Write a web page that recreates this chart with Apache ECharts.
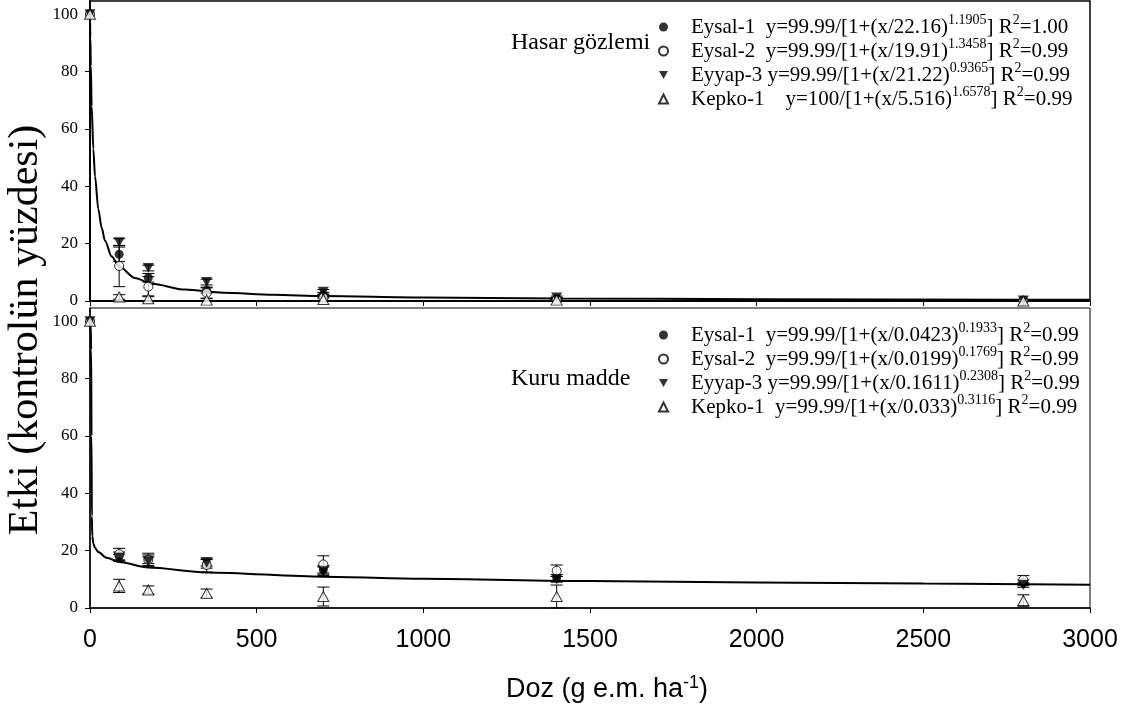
<!DOCTYPE html>
<html><head><meta charset="utf-8">
<script src="https://cdn.jsdelivr.net/npm/echarts@6/dist/echarts.min.js"></script>
<style>html,body{margin:0;padding:0;background:#fff}#c{width:1130px;height:708px}</style>
</head><body><div id="c"></div>
<script>
// ---- data ----
const doses = [0, 87.5, 175, 350, 700, 1400, 2800];
const xTicks = [0, 500, 1000, 1500, 2000, 2500, 3000];
const yTicks = [0, 20, 40, 60, 80, 100];
const cultivars = ['Eysal-1', 'Eysal-2', 'Eyyap-3', 'Kepko-1'];

// Hasar gözlemi (top panel)
const hEysal1 = [100, 16.3, 8.1, 3.8, 2.2, 0.8, 0.1];
const hEysal2 = [100, 12.2, 5.0, 2.8, 1.2, 0.5, 0.1];
const hEyyap3 = [100, 20.5, 11.5, 6.6, 3.2, 1.2, 0.2];
const hKepko1 = [100, 1.4, 0.8, 0.3, 0.5, 0.3, 0.0];
const hEysal1Err = [0, 2.5, 1.5, 1.0, 0.8, 0.4, 0];
const hEysal2Err = [0, 7.2, 3.5, 1.8, 1.0, 0.5, 0.2];
const hEyyap3Err = [0, 1.2, 1.0, 1.0, 0.8, 0.5, 0];
const hKepko1Err = [0, 0.8, 1.0, 0.5, 0.5, 0.3, 0];
const hCurveX = [0, 1, 2.5, 5, 10, 15, 25, 35, 45, 65, 87.5, 135, 185, 285, 400, 550, 700, 1000, 1400, 2000, 2800, 3000];
const hCurveY = [100, 92, 82, 68, 53, 43.5, 32, 25.5, 21, 15.5, 12, 8, 6, 4, 2.9, 2.2, 1.7, 1.2, 0.9, 0.6, 0.4, 0.4];
const hEqPre = ['Eysal-1  y=99.99/[1+(x/22.16)', 'Eysal-2  y=99.99/[1+(x/19.91)', 'Eyyap-3 y=99.99/[1+(x/21.22)', 'Kepko-1    y=100/[1+(x/5.516)'];
const hEqExp = ['1.1905', '1.3458', '0.9365', '1.6578'];
const hR2 = ['1.00', '0.99', '0.99', '0.99'];

// Kuru madde (bottom panel)
const kEysal1 = [100, 18.0, 17.0, 15.4, 13.3, 10.5, 8.8];
const kEysal2 = [100, 18.8, 16.8, 15.0, 15.2, 13.0, 9.8];
const kEyyap3 = [100, 17.5, 16.3, 15.8, 12.8, 10.0, 8.0];
const kKepko1 = [100, 7.7, 6.3, 5.1, 4.0, 4.0, 2.6];
const kEysal1Err = [0, 1.5, 1.5, 1.5, 1.5, 1.2, 1.0];
const kEysal2Err = [0, 2.0, 2.3, 2.5, 3.0, 2.0, 1.5];
const kEyyap3Err = [0, 1.2, 1.5, 1.2, 1.5, 1.0, 0.8];
const kKepko1Err = [0, 2.3, 1.4, 1.5, 3.3, 4.0, 2.0];
const kCurveX = [0, 2, 3.5, 4.5, 5.5, 7, 10, 15, 25, 50, 87.5, 175, 350, 700, 1000, 1500, 2000, 2500, 3000];
const kCurveY = [100, 99, 90, 60, 32, 25, 22.5, 21, 19.5, 17.5, 16, 14.1, 12.4, 10.9, 10.2, 9.4, 8.9, 8.5, 8.1];
const kEqPre = ['Eysal-1  y=99.99/[1+(x/0.0423)', 'Eysal-2  y=99.99/[1+(x/0.0199)', 'Eyyap-3 y=99.99/[1+(x/0.1611)', 'Kepko-1  y=99.99/[1+(x/0.033)'];
const kEqExp = ['0.1933', '0.1769', '0.2308', '0.3116'];
const kR2 = ['0.99', '0.99', '0.99', '0.99'];

const panelTitles = ['Hasar gözlemi', 'Kuru madde'];
const yTitle = 'Etki (kontrolün yüzdesi)';
const xTitle = ['Doz (g e.m. ha', '-1', ')'];

// ---- chart ----
const SERIF = 'Liberation Serif';
const SANS = 'Liberation Sans';
const downTri = 'path://M0,0L10,0L5,8.66Z';
const symStyles = [
  {symbol: 'circle', symbolSize: 9, itemStyle: {color: '#000'}},
  {symbol: 'circle', symbolSize: 9, itemStyle: {color: '#fff', borderColor: '#000', borderWidth: 1}},
  {symbol: downTri, symbolSize: [11, 10], itemStyle: {color: '#000'}},
  {symbol: 'triangle', symbolSize: [11, 10], itemStyle: {color: '#fff', borderColor: '#000', borderWidth: 1}}
];

const panels = [
  {vals: [hEysal1, hEysal2, hEyyap3, hKepko1], errs: [hEysal1Err, hEysal2Err, hEyyap3Err, hKepko1Err], cx: hCurveX, cy: hCurveY, pre: hEqPre, exp: hEqExp, r2: hR2, key: 'H'},
  {vals: [kEysal1, kEysal2, kEyyap3, kKepko1], errs: [kEysal1Err, kEysal2Err, kEyyap3Err, kKepko1Err], cx: kCurveX, cy: kCurveY, pre: kEqPre, exp: kEqExp, r2: kR2, key: 'K'}
];

const labelMap = {};
const series = [];
const legendData = [[], []];

function errRender(params, api) {
  const x = api.value(0), lo = api.value(1), hi = api.value(2);
  if (hi - lo <= 0) return null;
  const p1 = api.coord([x, lo]);
  const p2 = api.coord([x, hi]);
  const w = 6;
  const st = {stroke: '#000', lineWidth: 1};
  return {type: 'group', children: [
    {type: 'line', shape: {x1: p1[0], y1: p1[1], x2: p2[0], y2: p2[1]}, style: st},
    {type: 'line', shape: {x1: p1[0] - w, y1: p1[1], x2: p1[0] + w, y2: p1[1]}, style: st},
    {type: 'line', shape: {x1: p2[0] - w, y1: p2[1], x2: p2[0] + w, y2: p2[1]}, style: st}
  ]};
}

panels.forEach((p, gi) => {
  series.push({
    type: 'line', xAxisIndex: gi, yAxisIndex: gi, z: 1,
    data: p.cx.map((x, i) => [x, p.cy[i]]),
    showSymbol: false, symbol: 'none', smooth: 0.3, smoothMonotone: 'x',
    lineStyle: {color: '#000', width: 2}, silent: true
  });
  p.vals.forEach((v, si) => {
    series.push({
      type: 'custom', xAxisIndex: gi, yAxisIndex: gi, z: 2, silent: true,
      renderItem: errRender,
      encode: {x: 0, y: [1, 2]},
      data: doses.map((d, i) => [d, v[i] - p.errs[si][i], v[i] + p.errs[si][i]])
    });
  });
  p.vals.forEach((v, si) => {
    const name = p.key + ' ' + cultivars[si];
    labelMap[name] = '{g| }{t|' + p.pre[si] + '}{s|' + p.exp[si] + '}{t|] R}{s|2}{t|=' + p.r2[si] + '}';
    legendData[gi].push(name);
    series.push(Object.assign({
      type: 'scatter', name: name, xAxisIndex: gi, yAxisIndex: gi, z: 3,
      data: doses.map((d, i) => [d, v[i]])
    }, symStyles[si]));
  });
});

const richT = {
  g: {width: 18},
  t: {fontFamily: SERIF, fontSize: 21, lineHeight: 20, color: '#000'},
  s: {fontFamily: SERIF, fontSize: 14, lineHeight: 20, color: '#000', padding: [0, 0, 14, 0]}
};

function mkLegend(gi, top) {
  return {
    orient: 'vertical', left: 653, top: top, itemGap: -4, itemWidth: 9, itemHeight: 9,
    selectedMode: false, data: legendData[gi],
    formatter: n => labelMap[n],
    textStyle: {fontFamily: SERIF, fontSize: 21, lineHeight: 20, color: '#000', rich: richT}
  };
}

function mkX(gi) {
  return {
    gridIndex: gi, type: 'value', min: 0, max: 3000, interval: 500,
    axisLine: {show: true, onZero: false, lineStyle: {color: '#000', width: gi === 0 ? 2 : 1.5}},
    axisTick: {show: true, inside: false, length: 5, lineStyle: {color: '#000', width: 1}, customValues: xTicks},
    splitLine: {show: false},
    axisLabel: {show: gi === 1, fontFamily: SANS, fontSize: 25, color: '#000', margin: 20, customValues: xTicks,
      formatter: v => String(v)}
  };
}
function mkY(gi) {
  return {
    gridIndex: gi, type: 'value', min: 0, max: 104.6, interval: 20,
    axisLine: {show: true, onZero: false, lineStyle: {color: '#000', width: gi === 0 ? 2 : 1.5}},
    axisTick: {show: true, inside: false, length: 5, lineStyle: {color: '#000', width: 1}, customValues: yTicks},
    splitLine: {show: false},
    axisLabel: {fontFamily: SERIF, fontSize: 17, color: '#000', margin: 12, customValues: yTicks,
      formatter: v => (yTicks.indexOf(v) >= 0 ? String(v) : '')}
  };
}

const chart = echarts.init(document.getElementById('c'), null, {renderer: 'canvas'});
chart.setOption({
  animation: false,
  backgroundColor: '#fff',
  textStyle: {fontFamily: SERIF},
  grid: [
    {left: 90, right: 40, top: 1, height: 300, show: true, borderColor: '#000', borderWidth: 1.5, backgroundColor: 'transparent'},
    {left: 90, right: 40, top: 308, height: 300, show: true, borderColor: '#000', borderWidth: 1, backgroundColor: 'transparent'}
  ],
  xAxis: [mkX(0), mkX(1)],
  yAxis: [mkY(0), mkY(1)],
  legend: [mkLegend(0, 8), mkLegend(1, 316)],
  graphic: [
    {type: 'text', x: 511, y: 43, style: {text: panelTitles[0], fontFamily: SERIF, fontSize: 24, fill: '#000', textAlign: 'left', textVerticalAlign: 'middle'}},
    {type: 'text', x: 511, y: 379, style: {text: panelTitles[1], fontFamily: SERIF, fontSize: 24, fill: '#000', textAlign: 'left', textVerticalAlign: 'middle'}},
    {type: 'text', x: 26, y: 330, rotation: Math.PI / 2, style: {text: yTitle, fontFamily: SERIF, fontSize: 42, fill: '#000', textAlign: 'center', textVerticalAlign: 'middle'}},
    {type: 'text', x: 607, y: 690, style: {
      text: '{a|' + xTitle[0] + '}{s|' + xTitle[1] + '}{a|' + xTitle[2] + '}',
      textAlign: 'center', textVerticalAlign: 'middle',
      rich: {
        a: {fontFamily: SANS, fontSize: 27, lineHeight: 28, fill: '#000'},
        s: {fontFamily: SANS, fontSize: 18, lineHeight: 28, fill: '#000', padding: [0, 0, 14, 0]}
      }
    }}
  ],
  series: series
});
</script></body></html>
